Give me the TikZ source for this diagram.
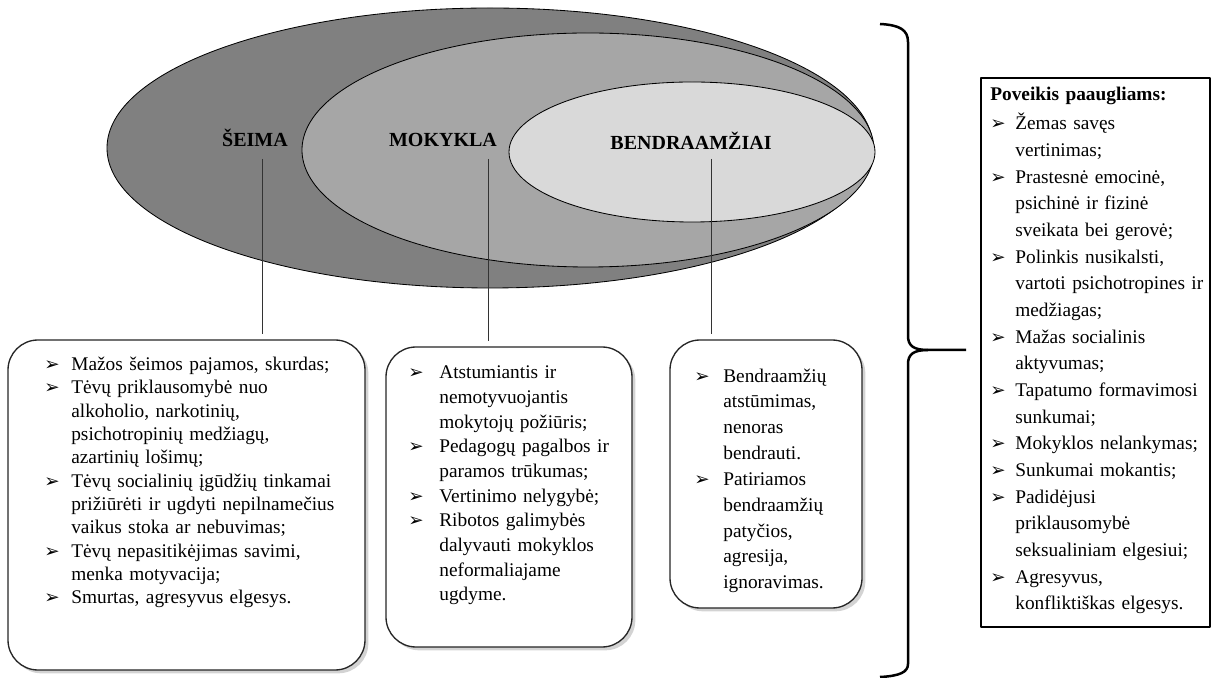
\documentclass[tikz,border=0pt]{standalone}
\usepackage{fontspec}
\setmainfont{Liberation Serif}
\newfontfamily\dejavu{DejaVu Sans}
\usetikzlibrary{shadows,fit}

\newlength\hng
\setlength\hng{17pt}
\newcommand{\arr}{{\dejavu\fontsize{11}{11}\selectfont ➢}}
% bullet line and continuation line
\newcommand{\pb}{\par\noindent\strut\makebox[\hng][l]{\arr}}
\newcommand{\pc}{\par\noindent\strut\hspace*{\hng}}

\begin{document}
\begin{tikzpicture}[x=0.6pt,y=-0.6pt,line join=round,
  rbox/.style={draw=black!85,line width=0.8pt,rounded corners=18pt,fill=white,inner sep=0pt,
    drop shadow={shadow xshift=2pt,shadow yshift=-2pt,opacity=.35}},
  sbox/.style={draw,line width=0.7pt,fill=white,inner sep=0pt},
  txt/.style={anchor=north west,inner sep=0pt,text width=#1,align=left},
  head/.style={font=\bfseries\fontsize{12}{14}\selectfont,inner sep=1pt,anchor=base},
  conn/.style={draw=black!80,line width=0.5pt,shorten >=3pt}]
  \useasboundingbox (0,0) rectangle (1214,678);

  % ellipses
  \draw[fill=black!50,line width=0.5pt] (490,148) ellipse [x radius=383, y radius=140];
  \draw[fill=black!35,line width=0.5pt] (588,150) ellipse [x radius=286, y radius=117];
  \draw[fill=black!15,line width=0.5pt] (692,152) ellipse [x radius=183, y radius=70];

  \node[head] (seima) at (255,147) {ŠEIMA};
  \node[head] (mokykla) at (443,147) {MOKYKLA};
  \node[head] (bendr) at (691,150) {BENDRAAMŽIAI};

  % boxes
  \node[rbox,fit={(8,340) (365,670)}] (b1) {};
  \node[rbox,fit={(386,347) (632,647)}] (b2) {};
  \node[rbox,fit={(670,340) (862,608)}] (b3) {};
  \node[sbox,fit={(981,78) (1210,627)}] (b4) {};

  \coordinate (s1) at (262,159);
  \coordinate (s2) at (488,159);
  \coordinate (s3) at (711,159);
  \draw[conn] (s1) -- (s1 |- b1.north);
  \draw[conn] (s2) -- (s2 |- b2.north);
  \draw[conn] (s3) -- (s3 |- b3.north);

  \node[txt=300pt,font=\fontsize{11.6}{14}\selectfont\setlength\hng{16.2pt}] (t1) at (44,347) {%
    \pb Mažos šeimos pajamos, skurdas;
    \pb Tėvų priklausomybė nuo
    \pc alkoholio, narkotinių,
    \pc psichotropinių medžiagų,
    \pc azartinių lošimų;
    \pb Tėvų socialinių įgūdžių tinkamai
    \pc prižiūrėti ir ugdyti nepilnamečius
    \pc vaikus stoka ar nebuvimas;
    \pb Tėvų nepasitikėjimas savimi,
    \pc menka motyvacija;
    \pb Smurtas, agresyvus elgesys.};

  \node[txt=220pt,font=\fontsize{11.6}{14.8}\selectfont\setlength\hng{18.6pt}] (t2) at (408,354) {%
    \pb Atstumiantis ir
    \pc nemotyvuojantis
    \pc mokytojų požiūris;
    \pb Pedagogų pagalbos ir
    \pc paramos trūkumas;
    \pb Vertinimo nelygybė;
    \pb Ribotos galimybės
    \pc dalyvauti mokyklos
    \pc neformaliajame
    \pc ugdyme.};

  \node[txt=170pt,font=\fontsize{11.6}{15.5}\selectfont\setlength\hng{17.4pt}] (t3) at (694,356) {%
    \pb Bendraamžių
    \pc atstūmimas,
    \pc nenoras
    \pc bendrauti.
    \pb Patiriamos
    \pc bendraamžių
    \pc patyčios,
    \pc agresija,
    \pc ignoravimas.};

  \node[txt=215pt,font=\fontsize{11.6}{16}\selectfont\setlength\hng{15pt}] (t4) at (990,82) {%
    \strut\textbf{Poveikis paaugliams:}\par\vspace{1.4pt}
    \pb Žemas savęs
    \pc vertinimas;
    \pb Prastesnė emocinė,
    \pc psichinė ir fizinė
    \pc sveikata bei gerovė;
    \pb Polinkis nusikalsti,
    \pc vartoti psichotropines ir
    \pc medžiagas;
    \pb Mažas socialinis
    \pc aktyvumas;
    \pb Tapatumo formavimosi
    \pc sunkumai;
    \pb Mokyklos nelankymas;
    \pb Sunkumai mokantis;
    \pb Padidėjusi
    \pc priklausomybė
    \pc seksualiniam elgesiui;
    \pb Agresyvus,
    \pc konfliktiškas elgesys.};

  % brace
  \coordinate (tip) at (966,350);
  \draw[line width=1.5pt] (880,24) .. controls (900,25) and (908,30) .. (908,42) -- (908,336)
    .. controls (908,346) and (914,350) .. (928,350) -- (tip);
  \draw[line width=1.5pt] (928,350) .. controls (914,350) and (908,354) .. (908,364) -- (908,664)
    .. controls (908,672) and (900,676) .. (880,677);
\end{tikzpicture}
\end{document}
